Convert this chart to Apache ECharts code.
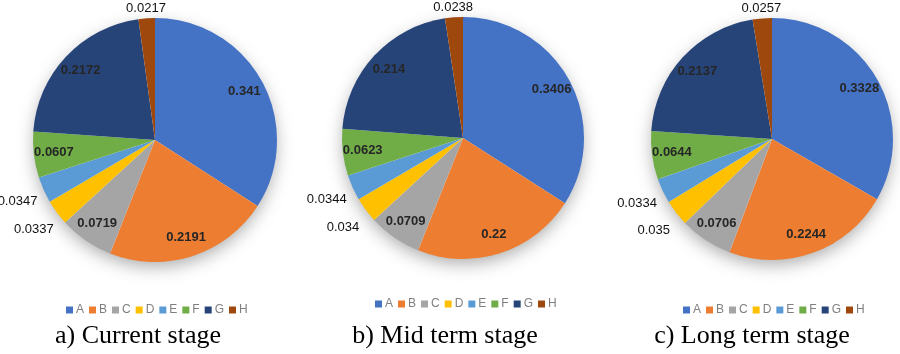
<!DOCTYPE html>
<html>
<head>
<meta charset="utf-8">
<script src="https://cdn.jsdelivr.net/npm/echarts@6/dist/echarts.min.js"></script>
<style>
  html, body { margin: 0; padding: 0; background: #ffffff; }
  #chart { width: 900px; height: 354px; }
</style>
</head>
<body>
<div id="chart"></div>
<script>
// data
var categories = ["A", "B", "C", "D", "E", "F", "G", "H"];
var currentStage = [0.341, 0.2191, 0.0719, 0.0337, 0.0347, 0.0607, 0.2172, 0.0217];
var midTermStage = [0.3406, 0.22, 0.0709, 0.034, 0.0344, 0.0623, 0.214, 0.0238];
var longTermStage = [0.3328, 0.2244, 0.0706, 0.035, 0.0334, 0.0644, 0.2137, 0.0257];
var stageTitles = ["a) Current stage", "b) Mid term stage", "c) Long term stage"];

// where each value label sits
var innerLabels = ["A", "B", "C", "F", "G"];
var topLabels = ["H"];
var sideLabels = ["D", "E"];

var colors = ["#4472C4", "#ED7D31", "#A5A5A5", "#FFC000", "#5B9BD5", "#70AD47", "#264478", "#9E480E"];

var panels = [
  { values: currentStage, cx: 155, cy: 140, r: 122, legendX: 157, legendY: 304, titleX: 138 },
  { values: midTermStage, cx: 463, cy: 138, r: 121, legendX: 466, legendY: 298, titleX: 445 },
  { values: longTermStage, cx: 772, cy: 139, r: 121, legendX: 774, legendY: 304, titleX: 752 }
];

function toData(values) {
  return categories.map(function (c, i) {
    return { name: c, value: values[i] };
  });
}

function labelRing(p, r0, r1, names, bold) {
  return {
    type: "pie",
    silent: true,
    center: [p.cx, p.cy],
    radius: [r0, r1],
    startAngle: 90,
    avoidLabelOverlap: false,
    itemStyle: { color: "transparent" },
    emphasis: { disabled: true },
    labelLine: { show: false },
    label: {
      show: true,
      position: "inside",
      color: bold ? "#262626" : "#111111",
      fontFamily: "Liberation Sans, Arial, sans-serif",
      fontSize: 13,
      fontWeight: bold ? "bold" : "normal",
      formatter: function (d) {
        return names.indexOf(d.name) >= 0 ? String(d.value) : "";
      }
    },
    data: toData(p.values),
    z: 4
  };
}

var series = [];
var legends = [];
var titles = [];

// visible pies first so the legends take their colours
panels.forEach(function (p) {
  series.push({
    type: "pie",
    center: [p.cx, p.cy],
    radius: p.r,
    startAngle: 90,
    label: { show: false },
    labelLine: { show: false },
    emphasis: { disabled: true },
    itemStyle: { borderWidth: 0 },
    data: toData(p.values),
    z: 3
  });
});

panels.forEach(function (p, i) {
  // soft shadow disc under the pie
  series.push({
    type: "pie",
    silent: true,
    center: [p.cx, p.cy],
    radius: p.r - 2,
    label: { show: false },
    labelLine: { show: false },
    emphasis: { disabled: true },
    itemStyle: {
      color: "#ffffff",
      shadowBlur: 18,
      shadowOffsetY: 6,
      shadowColor: "rgba(0,0,0,0.35)"
    },
    data: [{ name: "", value: 1 }],
    z: 1
  });

  series.push(labelRing(p, p.r * 0.62, p.r, innerLabels, true));
  series.push(labelRing(p, p.r * 0.99, p.r * 1.13, topLabels, false));
  series.push(labelRing(p, p.r * 1.08, p.r * 1.34, sideLabels, false));

  legends.push({
    data: categories,
    left: p.legendX - 91,
    top: p.legendY,
    padding: 0,
    itemWidth: 7,
    itemHeight: 7,
    itemGap: 5,
    icon: "rect",
    selectedMode: false,
    textStyle: {
      color: "#7f7f7f",
      fontSize: 12,
      fontFamily: "Liberation Sans, Arial, sans-serif",
      padding: [0, 0, 0, -2]
    }
  });

  titles.push({
    text: stageTitles[i],
    left: p.titleX,
    top: 323,
    padding: 0,
    textAlign: "center",
    textStyle: {
      color: "#000000",
      fontFamily: "Liberation Serif, Times New Roman, serif",
      fontSize: 26,
      fontWeight: "normal"
    }
  });
});

var myChart = echarts.init(document.getElementById("chart"), null, { renderer: "canvas" });
myChart.setOption({
  backgroundColor: "#ffffff",
  animation: false,
  color: colors,
  title: titles,
  legend: legends,
  series: series
});
</script>
</body>
</html>
